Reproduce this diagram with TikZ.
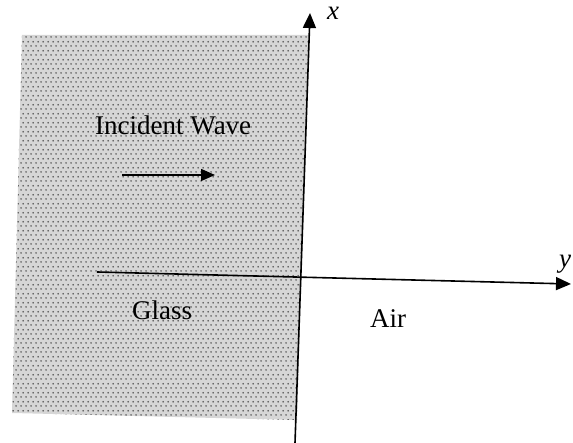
\documentclass[tikz,border=0pt]{standalone}
\usepackage{fontspec}
\setmainfont{Liberation Serif}
\usetikzlibrary{arrows.meta,patterns}
\pgfdeclarepatternformonly{glassdots}{\pgfpointorigin}{\pgfqpoint{5pt}{8.6pt}}{\pgfqpoint{5pt}{8.6pt}}{%
  \pgfpathcircle{\pgfqpoint{1.25pt}{2.15pt}}{0.9pt}%
  \pgfpathcircle{\pgfqpoint{3.75pt}{6.45pt}}{0.9pt}%
  \pgfusepath{fill}}
\tikzset{
  axis/.style={line width=1.6pt, -{Triangle[length=15pt,width=13pt]}},
  wave/.style={line width=1.4pt, -{Triangle[length=14pt,width=12pt]}},
  lbl/.style={font=\fontsize{27}{30}\selectfont, anchor=base west, inner sep=0pt}
}
\begin{document}
\begin{tikzpicture}[x=1pt,y=1pt]
\useasboundingbox (0,0) rectangle (573,443);
% glass region
\fill[black!16] (22,408) -- (309,408) -- (297,23) -- (12,30) -- cycle;
\fill[pattern=glassdots, pattern color=black!75] (22,408) -- (309,408) -- (297,23) -- (12,30) -- cycle;
% axes
\coordinate (xbot) at (295,0);
\coordinate (xtop) at (310,430);
\coordinate (yleft) at (97,171);
\coordinate (yright) at (571,159);
\draw[axis] (xbot) -- (xtop);
\draw[axis] (yleft) -- (yright);
% incident wave arrow
\coordinate (wa) at (122,268);
\coordinate (wb) at (215,268);
\draw[wave] (wa) -- (wb);
% labels
\node[lbl] (xl) at (327,423) {\textit{x}};
\node[lbl] (yl) at (559,175) {\textit{y}};
\node[lbl] (inc) at (95,308) {Incident Wave};
\node[lbl] (gl) at (132,123) {Glass};
\node[lbl] (air) at (370,115) {Air};
\end{tikzpicture}
\end{document}
